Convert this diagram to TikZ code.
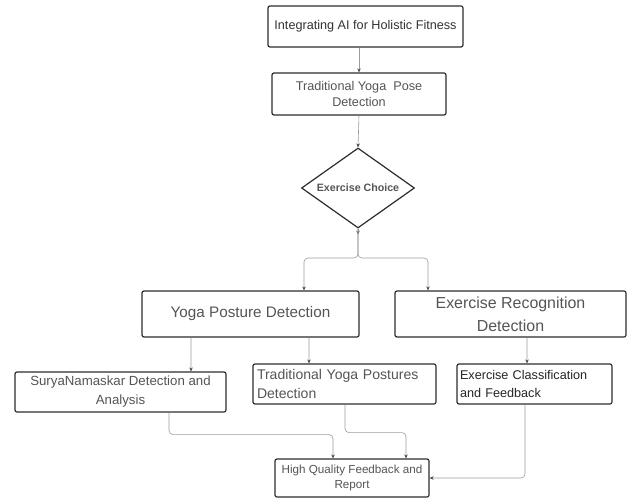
\documentclass[tikz,border=0pt]{standalone}
\usepackage{fontspec}
\setmainfont{Liberation Sans}
\usetikzlibrary{positioning}
\usetikzlibrary{arrows.meta}
\usetikzlibrary{shapes.geometric}
\definecolor{boxline}{RGB}{45,45,45}
\definecolor{conngray}{RGB}{155,155,155}
\definecolor{txtgray}{RGB}{85,85,85}

\tikzset{
  box/.style={draw=boxline, line width=1.2bp, rounded corners=2bp, fill=white, text=txtgray, inner sep=2bp},
  conn/.style={draw=conngray, line width=0.6bp, -{Stealth[length=4bp,width=3.5bp,color=black!70]}},
}

\begin{document}
\begin{tikzpicture}[x=1bp, y=-1bp]
\useasboundingbox (0,0) rectangle (629,498);

% top of the chart
\node[box, minimum width=195bp, minimum height=41bp, text=black!80, font=\fontsize{12.7}{15}\selectfont] (fit) at (365.5,26.5) {Integrating AI for Holistic Fitness};
\node[box, minimum width=174bp, minimum height=42bp, align=center, font=\fontsize{12.7}{16}\selectfont] (pose) at (359,94) {Traditional Yoga\ \ Pose\\Detection};
\node[draw=boxline, line width=1.2bp, shape=diamond, aspect=1.4, minimum width=113bp, minimum height=80bp, inner sep=0pt, fill=white, text=txtgray, font=\bfseries\fontsize{10.7}{13}\selectfont] (choice) at (358,188) {Exercise Choice};

% two branches
\node[box, minimum width=217bp, minimum height=46bp, font=\fontsize{15.3}{19}\selectfont] (yogapd) at (250.5,314) {Yoga Posture Detection};
\node[box, minimum width=231bp, minimum height=46bp, align=center, font=\fontsize{16}{23}\selectfont] (exrec) at (510.5,314) {Exercise Recognition\\Detection};

\node[box, minimum width=211bp, minimum height=40bp, align=center, font=\fontsize{13.3}{19}\selectfont] (surya) at (120.5,392) {SuryaNamaskar Detection and\\Analysis};
\node[box, text width=175bp, inner xsep=4bp, minimum height=40bp, align=left, font=\fontsize{14.1}{20}\selectfont] (tradyp) at (344.5,384) {Traditional Yoga Postures\\Detection};
\node[box, text width=149bp, inner xsep=3bp, minimum height=40bp, align=left, text=black!85, font=\fontsize{12.7}{19}\selectfont] (excls) at (534.5,384) {Exercise Classification\\and Feedback};

% result
\node[box, minimum width=154bp, minimum height=38bp, align=center, font=\fontsize{11.7}{15}\selectfont] (report) at (352,478) {High Quality Feedback and\\Report};

% connectors
\draw[conn] (fit.south -| pose.north) -- (pose.north);
\draw[conn] (pose.south) -- (choice.north);
\coordinate (split) at (358,258);
\path (choice.south) ++(0,6) coordinate (choicetip);
\draw[conn] (choice.south) -- (choicetip);
\draw[conn, rounded corners=4bp] (choice.south) -- (split) -| ([xshift=53.5bp]yogapd.north);
\draw[conn, rounded corners=4bp] (choice.south) -- (split) -| ([xshift=-82.5bp]exrec.north);

\draw[conn] ([xshift=-59.5bp]yogapd.south) -- ([xshift=70.5bp]surya.north);
\draw[conn] ([xshift=58.5bp]yogapd.south) -- ([xshift=-35.5bp]tradyp.north);
\draw[conn] ([xshift=16.5bp]exrec.south) -- ([xshift=-7.5bp]excls.north);

\draw[conn, rounded corners=4bp] ([xshift=48.5bp]surya.south) -- ++(0,22) -| ([xshift=-19bp]report.north);
\draw[conn, rounded corners=4bp] ([xshift=0.5bp]tradyp.south) -- ++(0,28) -| ([xshift=54bp]report.north);
\draw[conn, rounded corners=4bp] ([xshift=-9.5bp]excls.south) |- (report.east);
\end{tikzpicture}
\end{document}
